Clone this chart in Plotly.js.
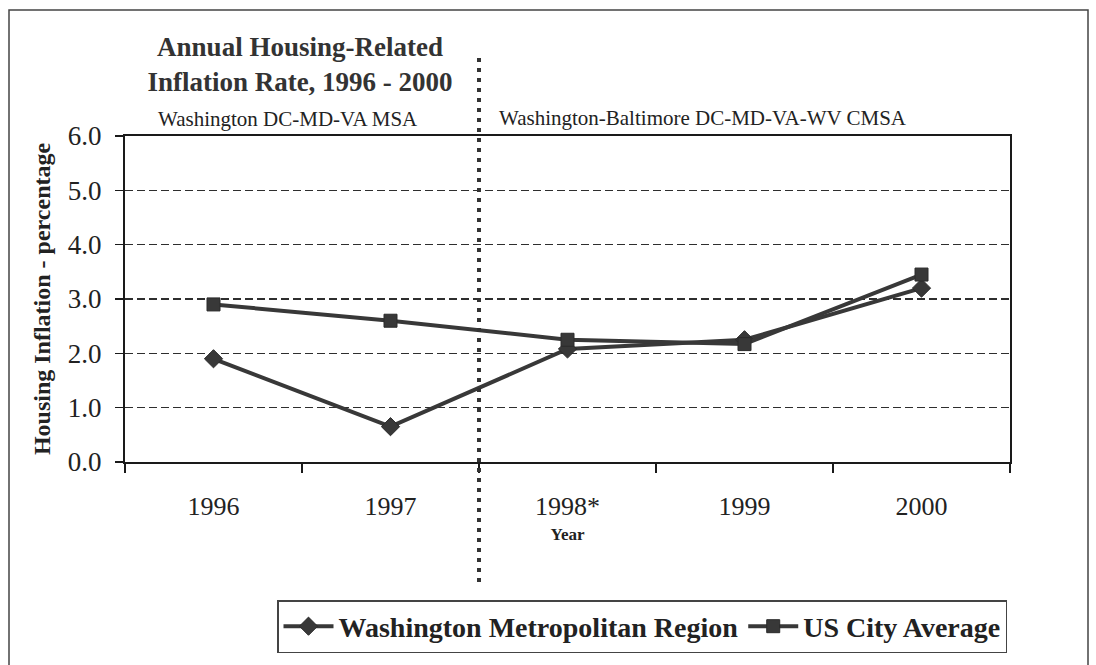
<!DOCTYPE html>
<html>
<head>
<meta charset="utf-8">
<script src="https://cdn.plot.ly/plotly-3.0.1.min.js"></script>
<style>
html,body{margin:0;padding:0;background:#fff;}
#chart{width:1096px;height:665px;}
</style>
</head>
<body>
<div id="chart"></div>
<script>
// ---- data ----
const years = ['1996', '1997', '1998*', '1999', '2000'];
const washingtonRegion = [1.9, 0.65, 2.08, 2.25, 3.2];
const usCityAverage = [2.9, 2.6, 2.25, 2.17, 3.45];
const yTickValues = [0, 1, 2, 3, 4, 5, 6];
const yTickLabels = ['0.0', '1.0', '2.0', '3.0', '4.0', '5.0', '6.0'];
const seriesNames = ['Washington Metropolitan Region', 'US City Average'];

const SERIF = '"Liberation Serif", "Times New Roman", serif';
const INK = '#222';
const LINE = '#383838';

const traces = [
  {
    x: years, y: washingtonRegion, name: seriesNames[0], type: 'scatter', mode: 'lines+markers',
    line: {color: LINE, width: 4},
    marker: {symbol: 'diamond', size: 14, color: '#383838', line: {color: '#2a2a2a', width: 1}}
  },
  {
    x: years, y: usCityAverage, name: seriesNames[1], type: 'scatter', mode: 'lines+markers',
    line: {color: LINE, width: 4},
    marker: {symbol: 'square', size: 13, color: '#383838', line: {color: '#2a2a2a', width: 1}}
  }
];

// plot area: x 125..1010, y 136..462
const L = 125, R = 1010, T = 136, B = 462;
const PW = R - L, PH = B - T;
const px = v => (v - L) / PW;
const py = v => (B - v) / PH;

const layout = {
  width: 1096, height: 665,
  paper_bgcolor: '#ffffff', plot_bgcolor: '#ffffff',
  margin: {l: L, r: 1096 - R, t: T, b: 665 - B, pad: 0},
  font: {family: SERIF, color: INK},
  showlegend: true,
  title: {
    text: '<b>Annual Housing-Related<br>Inflation Rate, 1996 - 2000</b>',
    font: {family: SERIF, size: 27, color: '#333'},
    xref: 'container', yref: 'container',
    x: 300 / 1096, xanchor: 'center',
    y: 1 - 56 / 665, yanchor: 'top'
  },
  xaxis: {
    type: 'category', range: [-0.5, 4.5],
    showline: true, linecolor: '#1a1a1a', linewidth: 2, mirror: true,
    ticks: 'outside', tickson: 'boundaries', ticklen: 9, tickwidth: 1.5, tickcolor: '#1a1a1a',
    showgrid: false, zeroline: false,
    tickfont: {family: SERIF, size: 26, color: INK},
    ticklabelstandoff: 20,
    title: {text: '<b>Year</b>', font: {family: SERIF, size: 17, color: INK}, standoff: 8},
    fixedrange: true
  },
  yaxis: {
    range: [0, 6],
    tickvals: yTickValues, ticktext: yTickLabels,
    showline: true, linecolor: '#1a1a1a', linewidth: 2, mirror: true,
    ticks: 'outside', ticklen: 8, tickwidth: 1.5, tickcolor: '#1a1a1a',
    showgrid: true, gridcolor: '#2e2e2e', gridwidth: 1.6, griddash: '8px,4px',
    zeroline: false,
    tickfont: {family: SERIF, size: 27, color: INK},
    ticklabelstandoff: 8,
    title: {text: '<b>Housing Inflation - percentage</b>', font: {family: SERIF, size: 24, color: INK}, standoff: 10},
    fixedrange: true
  },
  legend: {
    orientation: 'h',
    x: px(277), xanchor: 'left',
    y: py(600), yanchor: 'top',
    bordercolor: '#444', borderwidth: 1.5, bgcolor: '#ffffff',
    font: {family: SERIF, size: 28, color: INK, weight: 'bold'},
    itemwidth: 50
  },
  annotations: [
    {
      text: 'Washington DC-MD-VA MSA', xref: 'paper', yref: 'paper',
      x: px(288), y: py(119), xanchor: 'center', yanchor: 'middle', showarrow: false,
      font: {family: SERIF, size: 21, color: INK}
    },
    {
      text: 'Washington-Baltimore DC-MD-VA-WV CMSA', xref: 'paper', yref: 'paper',
      x: px(703), y: py(118), xanchor: 'center', yanchor: 'middle', showarrow: false,
      font: {family: SERIF, size: 21, color: INK}
    }
  ],
  shapes: [
    // outer frame of the figure
    {type: 'rect', xref: 'paper', yref: 'paper', x0: px(9), x1: px(1088), y0: py(700), y1: py(10),
     line: {color: '#444', width: 1.5}, fillcolor: 'rgba(0,0,0,0)', layer: 'below'},
    // dotted divider between MSA and CMSA periods (between 1997 and 1998*)
    {type: 'line', xref: 'x', yref: 'paper', x0: 1.5, x1: 1.5, y0: py(582), y1: py(55),
     line: {color: '#333', width: 4, dash: '4px,6px'}}
  ]
};

Plotly.newPlot('chart', traces, layout, {displayModeBar: false, staticPlot: true});
</script>
</body>
</html>
